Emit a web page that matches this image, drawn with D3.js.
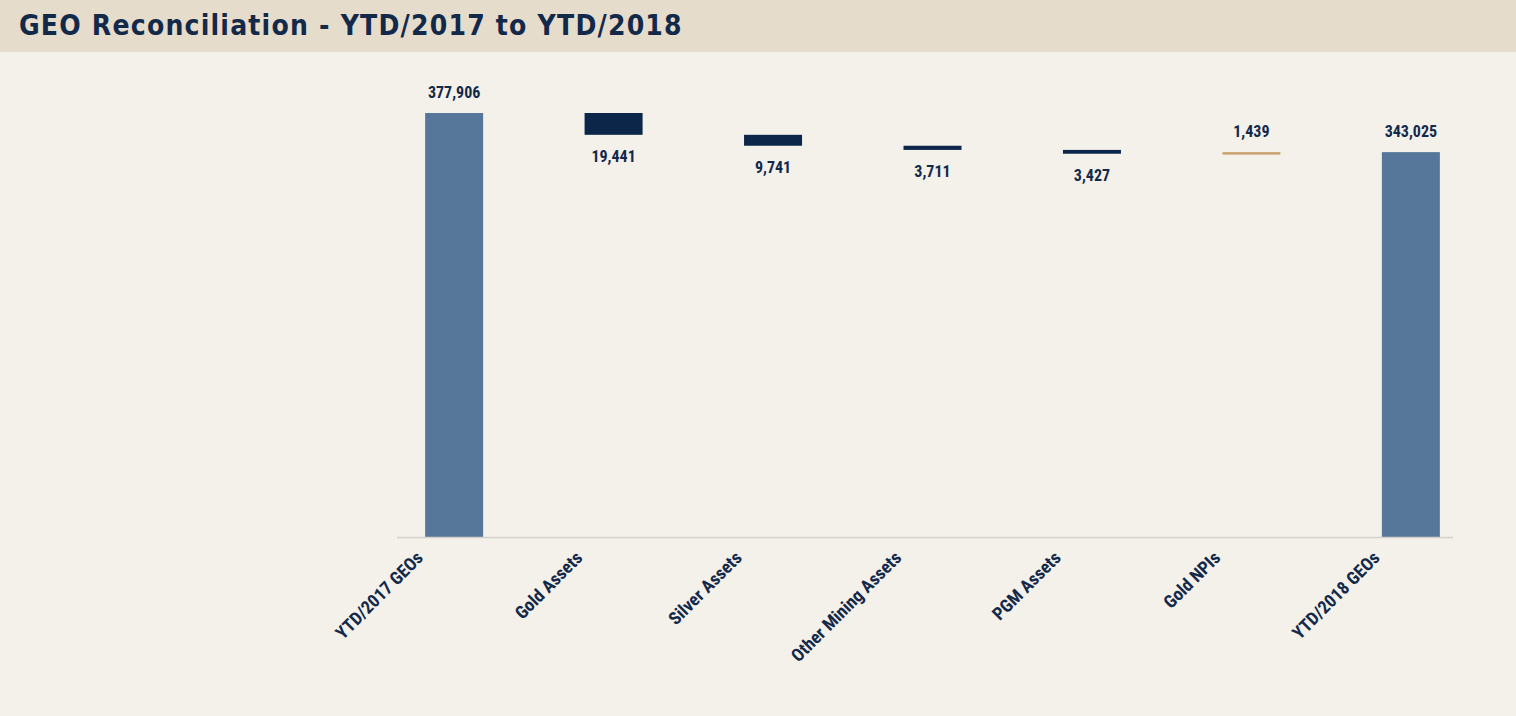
<!DOCTYPE html>
<html><head><meta charset="utf-8">
<script src="https://cdn.jsdelivr.net/npm/d3@7"></script>
<style>
html,body{margin:0;padding:0;background:#f4f1ea;}
svg{display:block;}
</style></head>
<body>
<svg id="chart" width="1516" height="716"></svg>
<script>
const categories = ["YTD/2017 GEOs","Gold Assets","Silver Assets","Other Mining Assets","PGM Assets","Gold NPIs","YTD/2018 GEOs"];
const values = [377906, -19441, -9741, -3711, -3427, 1439, 343025];
const kinds = ["total","delta","delta","delta","delta","delta","total"];
const valueLabels = ["377,906","19,441","9,741","3,711","3,427","1,439","343,025"];
const title = "GEO Reconciliation - YTD/2017 to YTD/2018";

const svg = d3.select("#chart");
const W = 1516, H = 716;
const colTotal = "#56779a", colNeg = "#0b2649", colPos = "#c9a46e", txt = "#13294a";

svg.append("rect").attr("width",W).attr("height",H).attr("fill","#f4f1ea");
svg.append("rect").attr("width",W).attr("height",52).attr("fill","#e6dccb");
svg.append("text").attr("x",19).attr("y",35).text(title)
  .attr("font-family","'DejaVu Sans Condensed','DejaVu Sans',sans-serif")
  .attr("font-size",28).attr("fill",txt).attr("font-weight","bold")
  .attr("letter-spacing",1.2);

// waterfall running totals
let run = 0;
const data = categories.map((c,i)=>{
  let y0, y1;
  if (kinds[i]==="total"){ y0 = 0; y1 = values[i]; run = values[i]; }
  else { y0 = run; y1 = run + values[i]; run = y1; }
  return {c, v: values[i], kind: kinds[i], y0, y1, label: valueLabels[i]};
});

const x = d3.scaleBand().domain(categories).range([374, 1491]).paddingInner(0.635).paddingOuter(0.32);
const y = d3.scaleLinear().domain([0, 377906]).range([537, 113]);
const bw = 58;

const g = svg.append("g");
g.selectAll("rect.bar").data(data).enter().append("rect")
  .attr("x", d => x(d.c) + x.bandwidth()/2 - bw/2)
  .attr("width", bw)
  .attr("y", d => y(Math.max(d.y0,d.y1)))
  .attr("height", d => Math.max(2.5, Math.abs(y(d.y0)-y(d.y1))))
  .attr("fill", d => d.kind==="total" ? colTotal : (d.v<0 ? colNeg : colPos));

// axis line
svg.append("line").attr("x1",397).attr("x2",1453).attr("y1",537.5).attr("y2",537.5)
  .attr("stroke","#d3d0ca").attr("stroke-width",1.5);

const lblFont = "'Liberation Sans Narrow','Roboto Condensed','Arial Narrow',sans-serif";
g.selectAll("text.val").data(data).enter().append("text")
  .attr("x", d => x(d.c) + x.bandwidth()/2)
  .attr("y", d => d.v<0 ? y(Math.min(d.y0,d.y1)) + 27 : y(Math.max(d.y0,d.y1)) - 15)
  .attr("text-anchor","middle")
  .attr("font-family", lblFont).attr("font-weight","bold").attr("font-size",16)
  .attr("fill", txt).text(d => d.label);

// category labels
const axisG = svg.append("g").attr("transform","translate(0,537)");
const xAxis = d3.axisBottom(x).tickSize(0).tickPadding(0);
axisG.call(xAxis);
axisG.select(".domain").remove();
axisG.selectAll(".tick text")
  .attr("font-family", lblFont).attr("font-weight","bold").attr("font-size",18)
  .attr("fill", txt)
  .attr("text-anchor","end")
  .attr("dy", 0)
  .attr("transform","translate(-30,22) rotate(-45)");
</script>
</body></html>
